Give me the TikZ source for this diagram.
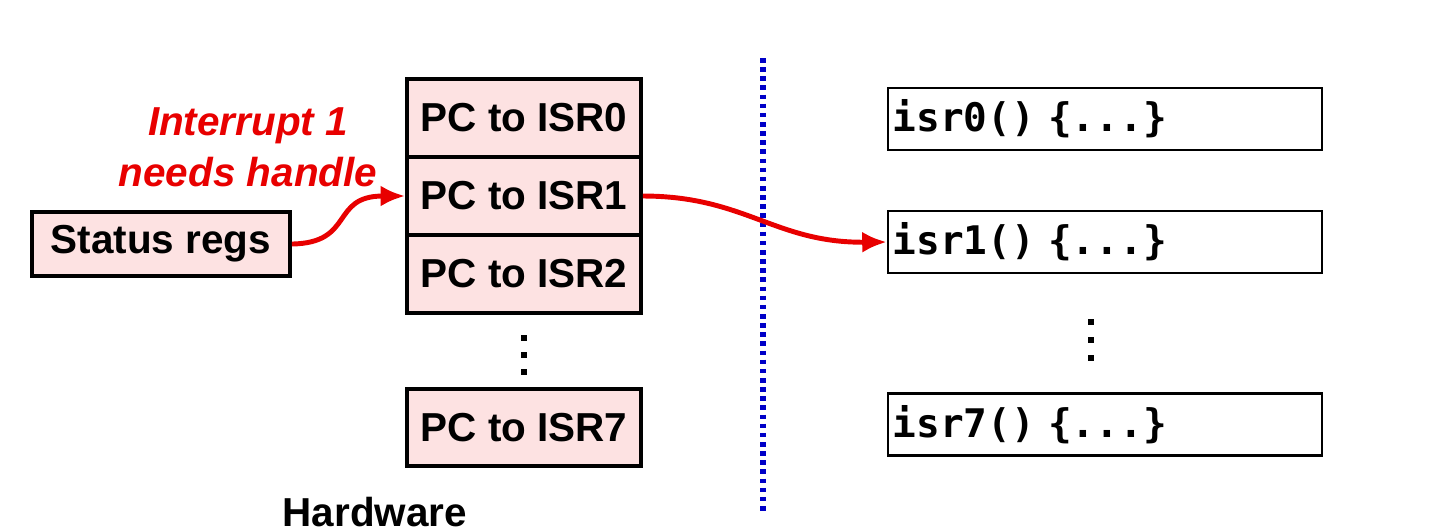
\documentclass[tikz,border=0pt]{standalone}
\usepackage{fontspec}
\setmainfont{Liberation Sans}
\setmonofont{DejaVu Sans Mono}
\usetikzlibrary{arrows.meta, positioning}

\definecolor{vecfill}{RGB}{253,226,226}
\definecolor{irqred}{RGB}{232,0,0}
\definecolor{divblue}{RGB}{0,0,200}

\begin{document}
\begin{tikzpicture}[
  x=0.01cm, y=-0.01cm,
  vec/.style={draw, fill=vecfill, line width=1pt,
              minimum width=2.34cm, minimum height=0.78cm, inner sep=0pt,
              font=\fontsize{11.5}{13}\selectfont\bfseries},
  isrblk/.style={draw, line width=0.6pt, minimum width=4.34cm,
                 minimum height=0.62cm, inner xsep=1.4pt, inner ysep=0pt,
                 text width=4.34cm-2.8pt, align=left,
                 font=\fontsize{11.2}{13}\selectfont\ttfamily\bfseries},
  lab/.style={font=\fontsize{11.5}{14}\selectfont\bfseries},
  arr/.style={-{Latex[length=7pt,width=6pt]}, irqred, line width=1.4pt},
  divline/.style={divblue, line width=1.5pt, dash pattern=on 1.3pt off 1.3pt},
]
\useasboundingbox (0,0) rectangle (1440,529);

% ---- Hardware vector table --------------------------------------------------
\node[vec] (pc0) at (524,118) {PC to ISR0};
\node[vec] (pc1) at (524,196) {PC to ISR1};
\node[vec] (pc2) at (524,274) {PC to ISR2};
\node[vec, minimum height=0.77cm] (pc7) at (524,427.5) {PC to ISR7};
\foreach \y in {338,355,372}
  \fill (521,\y-3) rectangle +(6,6);

\node[vec, minimum width=2.58cm, minimum height=0.64cm] (status) at (161,244) {Status regs};
\node[lab, irqred, align=center, font=\fontsize{11.5}{14.5}\selectfont\bfseries\itshape]
  (irq) at (248,147) {Interrupt 1\\needs handle};
\node[lab, anchor=base west, inner sep=0pt] (hw) at (282,526) {Hardware};

% ---- Divider ----------------------------------------------------------------
\coordinate (divtop) at (763,58);
\coordinate (divbot) at (763,515);
\draw[divline] (divtop) -- (divbot);

% ---- Software handlers ------------------------------------------------------
\node[isrblk] (isr0) at (1105,119) {isr0() \{...\}};
\node[isrblk] (isr1) at (1105,242) {isr1() \{...\}};
\node[isrblk] (isr7) at (1105,424.5) {isr7() \{...\}};
\foreach \y in {322,340,358}
  \fill (1088,\y-3) rectangle +(6,6);

% ---- Arrows -----------------------------------------------------------------
\draw[arr] (status.east) .. controls (355,243) and (330,196) .. (pc1.west);
\draw[arr] (pc1.east) .. controls (745,196) and (775,243) .. (isr1.west);

\end{tikzpicture}
\end{document}
